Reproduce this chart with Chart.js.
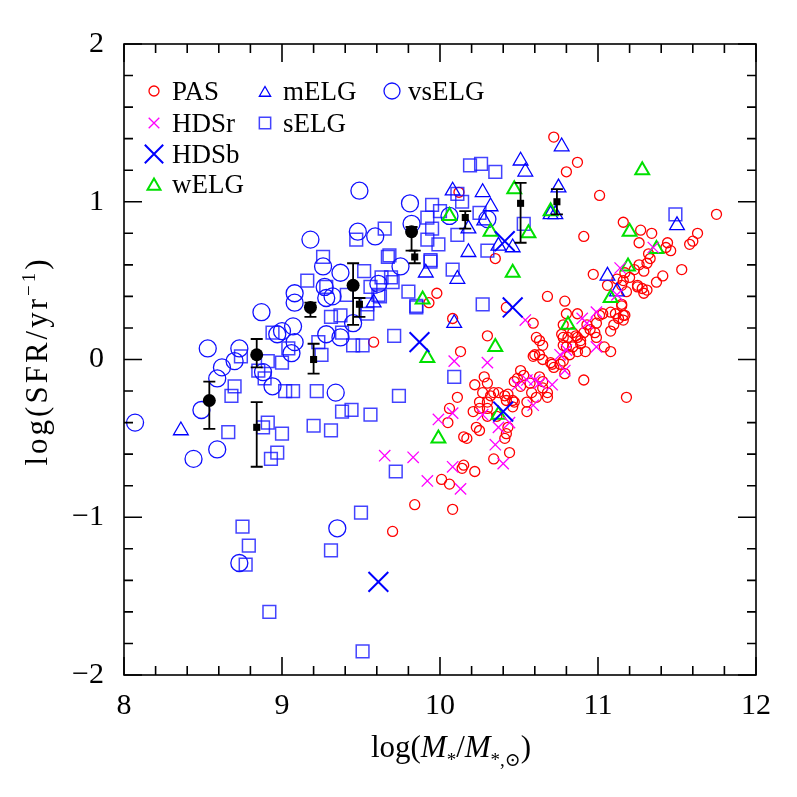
<!DOCTYPE html>
<html lang="en">
<head>
<meta charset="UTF-8">
<title>log SFR vs log stellar mass</title>
<script src="https://cdn.jsdelivr.net/npm/chart.js"></script>
<style>
  html, body { margin: 0; padding: 0; background: #fff; }
  canvas { display: block; }
</style>
</head>
<body>
<canvas id="sfrChart" width="797" height="797"></canvas>
<script>
// [log M*, log SFR] pairs
const pas = [
  [10.72,1.41],[10.87,1.25],[10.80,1.19],[11.01,1.04],[11.75,0.92],[11.16,0.87],[11.27,0.82],[11.34,0.80],
  [10.91,0.78],[11.26,0.74],[11.63,0.80],[11.60,0.75],[11.58,0.73],[11.44,0.74],[11.43,0.71],[11.46,0.69],
  [11.32,0.67],[10.12,1.06],[9.98,0.42],[9.93,0.36],[10.08,0.26],[10.13,0.05],[9.58,0.11],[11.33,0.64],
  [11.31,0.61],[11.26,0.60],[11.29,0.56],[11.23,0.57],[11.53,0.57],[11.41,0.53],[11.37,0.49],[11.31,0.44],
  [11.29,0.42],[11.25,0.46],[11.18,0.43],[11.20,0.52],[11.16,0.50],[11.12,0.51],[11.06,0.47],[10.97,0.54],
  [10.68,0.40],[10.79,0.37],[10.80,0.29],[11.15,0.34],[11.16,0.28],[11.13,0.26],[11.10,0.22],[11.08,0.18],
  [11.01,0.28],[11.03,0.29],[10.99,0.23],[10.98,0.17],[10.87,0.29],[10.93,0.22],[10.95,0.19],[10.91,0.17],
  [10.87,0.14],[10.84,0.17],[10.78,0.22],[10.77,0.16],[10.81,0.14],[10.80,0.08],[10.84,0.08],[10.89,0.10],
  [10.87,0.05],[10.92,0.05],[10.82,0.03],[10.99,0.14],[11.04,0.08],[11.08,0.05],[10.59,0.23],[10.61,0.14],
  [10.65,0.09],[10.63,0.03],[10.65,0.00],[10.59,0.02],[10.70,-0.02],[10.72,-0.05],[10.76,-0.03],[10.78,-0.01],
  [10.79,-0.09],[10.91,-0.13],[11.18,-0.24],[10.51,-0.07],[10.53,-0.10],[10.49,-0.12],[10.47,-0.14],[10.51,-0.17],
  [10.57,-0.15],[10.58,-0.21],[10.63,-0.11],[10.65,-0.14],[10.65,-0.18],[10.68,-0.24],[10.61,-0.24],[10.55,-0.27],
  [10.55,-0.33],[10.46,-0.30],[10.42,-0.26],[10.41,-0.23],[10.37,-0.21],[10.34,-0.21],[10.32,-0.23],[10.27,-0.21],
  [10.25,-0.27],[10.28,-0.11],[10.30,-0.15],[10.22,-0.16],[10.30,-0.27],[10.21,-0.33],[10.30,-0.36],[10.36,-0.36],
  [10.23,-0.43],[10.25,-0.45],[10.15,-0.49],[10.17,-0.50],[10.42,-0.47],[10.41,-0.50],[10.44,-0.59],[10.34,-0.63],
  [10.06,-0.31],[10.05,-0.40],[10.11,-0.24],[10.30,0.15],[10.35,0.64],[10.42,0.33],[9.84,-0.92],[9.70,-1.09],
  [10.01,-0.76],[10.06,-0.79],[10.08,-0.95],[10.14,-0.69],[10.22,-0.71],[11.25,0.47],[11.28,0.45],[11.17,0.55],
  [11.15,0.47],[11.08,0.30],[11.11,0.29],[11.15,0.35],[11.17,0.28],[11.16,0.25],[10.86,0.15],[10.89,0.12],
  [10.78,0.14],[10.78,0.09],[10.71,-0.03],[10.68,-0.21],[10.15,-0.67],[10.43,-0.22],[10.46,-0.26],[10.47,-0.27],
  [10.25,-0.31],[10.30,-0.31],[10.43,-0.43],[10.60,0.03],[10.63,0.12]
];
const hdsr = [
  [9.92,-0.77],[10.13,-0.82],[10.08,-0.68],[10.40,-0.66],[9.65,-0.61],[9.83,-0.62],[10.54,0.25],[10.09,-0.01],
  [10.30,-0.02],[10.08,-0.34],[9.99,-0.38],[10.27,-0.35],[10.44,-0.40],[10.35,-0.54],[11.14,0.58],[11.35,0.71],
  [11.12,0.41],[10.99,0.30],[10.90,0.26],[10.93,0.23],[10.99,0.08],[10.80,0.06],[10.76,0.03],[10.79,-0.07],
  [10.71,-0.16],[10.49,-0.16],[10.55,-0.13],[10.60,-0.13],[10.63,-0.15],[10.59,-0.29],[10.37,-0.43]
];
const hdsb = [[10.41,0.75],[10.46,0.33],[9.87,0.11],[10.40,-0.33],[9.61,-1.41]];
const welg = [
  [10.47,1.08],[10.06,0.91],[10.32,0.81],[10.56,0.80],[10.70,0.94],[11.28,1.20],[11.20,0.81],[11.37,0.70],
  [9.89,0.38],[9.92,0.01],[10.46,0.55],[10.35,0.08],[9.99,-0.50],[10.37,-0.35],[11.19,0.59],[11.08,0.39],
  [10.81,0.22]
];
const melg = [
  [8.36,-0.45],[10.51,1.26],[10.54,1.19],[10.08,1.07],[10.27,1.06],[10.32,0.97],[10.18,0.83],[10.37,0.72],
  [10.46,0.71],[10.18,0.68],[9.91,0.55],[10.11,0.51],[9.58,0.36],[10.09,0.23],[11.06,0.53],[11.12,0.43],
  [11.50,0.85],[10.77,1.35],[10.75,1.09],[10.73,0.92],[10.70,0.92],[10.28,0.88]
];
const selg = [
  [9.16,0.50],[9.28,0.46],[8.94,0.17],[9.04,0.07],[9.23,0.11],[9.25,0.03],[8.74,0.02],[8.91,-0.01],
  [9.00,-0.02],[8.85,-0.07],[8.89,-0.12],[8.70,-0.17],[8.68,-0.23],[9.02,-0.20],[9.07,-0.20],[9.22,-0.20],
  [8.66,-0.46],[8.91,-0.40],[8.88,-0.43],[9.00,-0.47],[9.20,-0.42],[9.31,-0.45],[8.97,-0.59],[8.93,-0.63],
  [9.31,0.27],[8.75,-1.06],[8.79,-1.18],[8.77,-1.30],[8.92,-1.60],[9.31,-1.21],[9.72,-0.71],[9.50,-0.97],
  [9.51,-1.85],[9.67,0.65],[9.94,0.62],[10.08,0.57],[9.52,0.56],[9.69,0.52],[9.70,0.49],[9.80,0.43],
  [9.61,0.41],[9.85,0.33],[10.27,0.35],[9.54,0.35],[9.37,0.28],[9.71,0.15],[9.45,0.09],[9.51,0.09],
  [9.38,0.17],[10.09,-0.11],[9.74,-0.23],[9.38,-0.33],[9.44,-0.32],[9.56,-0.35],[9.95,0.98],[9.92,0.90],
  [10.00,0.94],[9.65,0.83],[9.95,0.83],[10.11,0.79],[9.92,0.76],[9.99,0.73],[9.47,0.76],[9.68,0.66],
  [9.94,0.63],[9.26,0.65],[9.63,0.52],[9.56,0.46],[9.62,0.40],[9.41,0.41],[9.54,0.29],[9.85,0.34],
  [10.19,1.23],[10.26,1.24],[10.35,1.19],[10.25,0.93],[10.11,1.05],[10.14,1.00],[10.53,0.86],[10.30,0.69],
  [11.49,0.92]
];
const vselg = [
  [8.07,-0.40],[8.44,-0.63],[8.59,-0.57],[8.49,-0.32],[8.59,-0.12],[8.62,-0.05],[8.70,-0.01],[8.53,0.07],
  [8.73,0.07],[8.88,-0.08],[8.94,-0.17],[8.87,0.30],[8.97,0.16],[9.00,0.18],[9.07,0.21],[9.08,0.11],
  [9.06,0.04],[9.08,0.42],[9.08,0.36],[9.18,0.76],[9.26,0.59],[9.27,0.46],[9.28,0.39],[9.28,0.16],
  [9.32,0.40],[9.37,0.55],[9.37,0.14],[9.45,0.23],[9.48,0.81],[9.49,1.07],[9.59,0.78],[9.61,0.48],
  [9.75,0.59],[9.81,0.99],[9.82,0.86],[10.30,0.89],[10.06,0.91],[9.34,-0.21],[9.35,-1.07],[8.73,-1.29]
];

// binned medians (black) with error bar limits
const medCircleM = [8.54, 8.84, 9.18, 9.45, 9.82];
const medCircleSFR = [-0.26, 0.03, 0.33, 0.47, 0.81];
const medCircleLo = [-0.44, -0.05, 0.27, 0.22, 0.69];
const medCircleHi = [-0.14, 0.13, 0.36, 0.61, 0.84];
const medSquareM = [8.84, 9.20, 9.49, 9.84, 10.16, 10.51, 10.74];
const medSquareSFR = [-0.43, 0.00, 0.35, 0.65, 0.90, 0.99, 1.00];
const medSquareLo = [-0.68, -0.09, 0.27, 0.61, 0.83, 0.74, 0.92];
const medSquareHi = [-0.27, 0.10, 0.39, 0.69, 0.94, 1.12, 1.08];

const xTicks = [8, 9, 10, 11, 12];
const yTicks = [-2, -1, 0, 1, 2];
const legendNames = ['PAS', 'HDSr', 'HDSb', 'wELG', 'mELG', 'sELG', 'vsELG'];

const SERIF = '"Liberation Serif", "DejaVu Serif", serif';

const styles = {
  PAS:   { shape: 'circle',   color: '#ff0000', lw: 1.3, r: 5,   lr: 5 },
  HDSr:  { shape: 'crossRot', color: '#ff00ff', lw: 1.3, r: 8,   lr: 7.5 },
  HDSb:  { shape: 'crossRot', color: '#0000ff', lw: 2,   r: 14,  lr: 13 },
  wELG:  { shape: 'triangle', color: '#00e000', lw: 2,   r: 8,   lr: 7.5 },
  mELG:  { shape: 'triangle', color: '#0000ff', lw: 1.3, r: 8.5, lr: 6.5 },
  sELG:  { shape: 'rect',     color: 'rgba(20,20,255,0.8)', lw: 1.5, r: 9, lr: 8 },
  vsELG: { shape: 'circle',   color: '#1010ff', lw: 1.3, r: 8.5, lr: 8 }
};

function toXY(pairs) { return pairs.map(p => ({ x: p[0], y: p[1] })); }
function zipXY(xs, ys) { return xs.map((x, i) => ({ x: x, y: ys[i] })); }

function ds(name, pairs) {
  const s = styles[name];
  return {
    label: name, data: toXY(pairs),
    pointStyle: s.shape, pointRadius: s.r, pointBorderWidth: s.lw,
    borderColor: s.color, backgroundColor: 'rgba(0,0,0,0)', pointHoverRadius: s.r
  };
}

function drawMarker(ctx, s, x, y, r) {
  ctx.save();
  ctx.strokeStyle = s.color;
  ctx.lineWidth = s.lw;
  ctx.beginPath();
  if (s.shape === 'circle') {
    ctx.arc(x, y, r, 0, Math.PI * 2);
  } else if (s.shape === 'rect') {
    const h = r * Math.SQRT1_2;
    ctx.rect(x - h, y - h, 2 * h, 2 * h);
  } else if (s.shape === 'triangle') {
    ctx.moveTo(x, y - r);
    ctx.lineTo(x + r * Math.sin(2 * Math.PI / 3), y - r * Math.cos(2 * Math.PI / 3));
    ctx.lineTo(x + r * Math.sin(4 * Math.PI / 3), y - r * Math.cos(4 * Math.PI / 3));
    ctx.closePath();
  } else if (s.shape === 'crossRot') {
    const d = r * Math.SQRT1_2;
    ctx.moveTo(x - d, y - d); ctx.lineTo(x + d, y + d);
    ctx.moveTo(x - d, y + d); ctx.lineTo(x + d, y - d);
  }
  ctx.stroke();
  ctx.restore();
}

// frame with inward major/minor ticks on all four sides
const frameTicks = {
  id: 'frameTicks',
  afterDatasetsDraw(chart) {
    const { ctx, chartArea: a, scales: { x, y } } = chart;
    ctx.save();
    ctx.strokeStyle = '#000';
    ctx.lineWidth = 1.6;
    ctx.strokeRect(a.left, a.top, a.right - a.left, a.bottom - a.top);
    ctx.beginPath();
    for (let i = 0; i <= 20; i++) {
      const v = 8 + i * 0.2;
      const px = x.getPixelForValue(v);
      const len = i % 5 === 0 ? 18 : 9;
      ctx.moveTo(px, a.bottom); ctx.lineTo(px, a.bottom - len);
      ctx.moveTo(px, a.top); ctx.lineTo(px, a.top + len);
    }
    for (let i = 0; i <= 20; i++) {
      const v = -2 + i * 0.2;
      const py = y.getPixelForValue(v);
      const len = i % 5 === 0 ? 18 : 9;
      ctx.moveTo(a.left, py); ctx.lineTo(a.left + len, py);
      ctx.moveTo(a.right, py); ctx.lineTo(a.right - len, py);
    }
    ctx.stroke();
    ctx.restore();
  }
};

// vertical error bars with caps for the black medians
const errorBars = {
  id: 'errorBars',
  afterDatasetsDraw(chart) {
    const { ctx, scales: { x, y } } = chart;
    ctx.save();
    ctx.strokeStyle = '#000';
    ctx.lineWidth = 1.8;
    const bars = (ms, lo, hi) => {
      ms.forEach((m, i) => {
        const px = x.getPixelForValue(m);
        const y1 = y.getPixelForValue(lo[i]);
        const y2 = y.getPixelForValue(hi[i]);
        ctx.beginPath();
        ctx.moveTo(px, y1); ctx.lineTo(px, y2);
        ctx.moveTo(px - 6, y1); ctx.lineTo(px + 6, y1);
        ctx.moveTo(px - 6, y2); ctx.lineTo(px + 6, y2);
        ctx.stroke();
      });
    };
    bars(medCircleM, medCircleLo, medCircleHi);
    bars(medSquareM, medSquareLo, medSquareHi);
    ctx.restore();
  }
};

// legend block inside the plot plus the two axis titles
const annotations = {
  id: 'annotations',
  afterDraw(chart) {
    const ctx = chart.ctx;
    const slots = [
      [154, 91], [154, 123], [154, 154], [154, 184],
      [265, 91], [265, 123],
      [392, 91]
    ];
    ctx.save();
    ctx.fillStyle = '#000';
    ctx.font = '27px ' + SERIF;
    ctx.textBaseline = 'alphabetic';
    legendNames.forEach((name, i) => {
      const [mx, my] = slots[i];
      const s = styles[name];
      drawMarker(ctx, s, mx, my + (s.shape === 'triangle' ? 2 : 0), s.lr);
      ctx.fillText(name, mx + (i === 6 ? 16 : 18), my + 9);
    });

    // x title: log(M*/M*,⊙)
    const big = '31px ' + SERIF, ital = 'italic 31px ' + SERIF, small = '19px ' + SERIF;
    const xs = [
      { t: 'log(', f: big, dy: 0 },
      { t: 'M', f: ital, dy: 0 },
      { t: '*', f: small, dy: 9 },
      { t: '/', f: big, dy: 0 },
      { t: 'M', f: ital, dy: 0 },
      { t: '*,⊙', f: small, dy: 9 },
      { t: ')', f: big, dy: 0 }
    ];
    let w = 0;
    xs.forEach(p => { ctx.font = p.f; p.w = ctx.measureText(p.t).width; w += p.w; });
    let cx = 451 - w / 2;
    xs.forEach(p => { ctx.font = p.f; ctx.fillText(p.t, cx, 757 + p.dy); cx += p.w; });

    // y title: log(SFR/yr^-1), widened a little to match the original lettering
    ctx.letterSpacing = '3px';
    const ys = [
      { t: 'log(SFR/yr', f: big, dy: 0 },
      { t: '−1', f: small, dy: -12 },
      { t: ')', f: big, dy: 0 }
    ];
    w = 0;
    ys.forEach(p => { ctx.font = p.f; p.w = ctx.measureText(p.t).width; w += p.w; });
    ctx.translate(47, 361);
    ctx.rotate(-Math.PI / 2);
    cx = -w / 2;
    ys.forEach(p => { ctx.font = p.f; ctx.fillText(p.t, cx, p.dy); cx += p.w; });
    ctx.restore();
  }
};

const tickFont = { family: SERIF, size: 30 };

new Chart(document.getElementById('sfrChart'), {
  type: 'scatter',
  data: {
    datasets: [
      {
        label: 'median (circles)', data: zipXY(medCircleM, medCircleSFR),
        pointStyle: 'circle', pointRadius: 6.5, borderColor: '#000', backgroundColor: '#000', pointBorderWidth: 0
      },
      {
        label: 'median (squares)', data: zipXY(medSquareM, medSquareSFR),
        pointStyle: 'rect', pointRadius: 5, borderColor: '#000', backgroundColor: '#000', pointBorderWidth: 0
      },
      ds('HDSb', hdsb),
      ds('HDSr', hdsr),
      ds('wELG', welg),
      ds('mELG', melg),
      ds('sELG', selg),
      ds('vsELG', vselg),
      ds('PAS', pas)
    ]
  },
  options: {
    responsive: false,
    animation: false,
    devicePixelRatio: 1,
    layout: { padding: { top: 44, right: 41, left: 0, bottom: 0 } },
    plugins: { legend: { display: false }, tooltip: { enabled: false } },
    scales: {
      x: {
        type: 'linear', min: 8, max: 12,
        afterBuildTicks: s => { s.ticks = xTicks.map(v => ({ value: v })); },
        afterFit: s => { s.height = 122; },
        grid: { display: false, drawTicks: false },
        border: { display: false },
        ticks: { font: tickFont, color: '#000', padding: 13, maxRotation: 0 }
      },
      y: {
        type: 'linear', min: -2, max: 2,
        afterBuildTicks: s => { s.ticks = yTicks.map(v => ({ value: v })); },
        afterFit: s => { s.width = 124; },
        grid: { display: false, drawTicks: false },
        border: { display: false },
        ticks: {
          font: tickFont, color: '#000', padding: 20,
          callback: v => (v < 0 ? '−' + Math.abs(v) : String(v))
        }
      }
    }
  },
  plugins: [frameTicks, errorBars, annotations]
});
</script>
</body>
</html>
